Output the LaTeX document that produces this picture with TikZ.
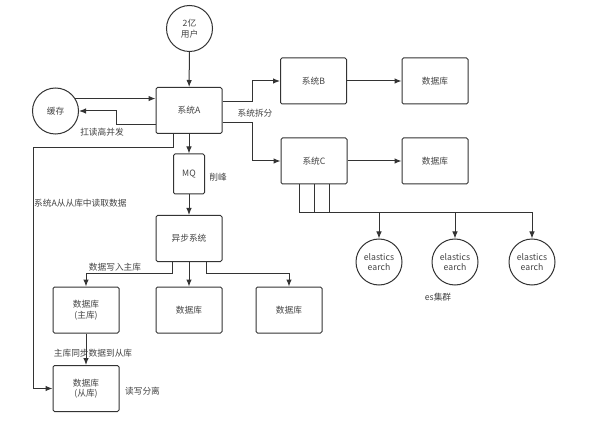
\documentclass[tikz,border=0pt]{standalone}
\usepackage{fontspec}
\setmainfont{Noto Sans CJK SC}
\usetikzlibrary{arrows.meta}

\definecolor{linegray}{HTML}{333333}
\definecolor{textgray}{HTML}{444444}

\tikzset{
    box/.style={draw=linegray, line width=1pt, rounded corners=1.5pt,
        minimum width=66pt, minimum height=46pt, inner sep=1pt,
        text=textgray, align=center},
    disc/.style={circle, draw=linegray, line width=1pt, minimum size=46pt,
        inner sep=0pt, text=textgray, align=center},
    note/.style={text=textgray, inner sep=1pt},
    link/.style={draw=linegray, line width=1pt},
}

\begin{document}
\begin{tikzpicture}[x=1pt, y=-1pt, >={Latex[length=7pt,width=5.5pt]},
        font=\fontsize{8.7}{10.5}\selectfont]
    \useasboundingbox[fill=white] (0,0) rectangle (597,422);

    \node[disc] (users) at (189.5,28.5) {2亿\\用户};
    \node[box] (sysA) at (189,110.5) {系统A};
    \node[disc] (cache) at (55.5,111) {缓存};
    \node[box] (sysB) at (313.5,81) {系统B};
    \node[box] (dbB) at (435,81) {数据库};
    \node[box] (sysC) at (314,161) {系统C};
    \node[box] (dbC) at (435,161) {数据库};
    \node[box, minimum width=31pt, minimum height=40pt] (mq) at (189,174) {MQ};
    \node[box] (async) at (189,238.5) {异步系统};
    \node[box] (master) at (86,310) {数据库\\(主库)};
    \node[box] (dbMid) at (189,310) {数据库};
    \node[box] (dbRight) at (289,310) {数据库};
    \node[box] (slave) at (86,388.5) {数据库\\(从库)};
    \foreach \i/\x in {1/379, 2/455, 3/532}
        \node[disc] (es\i) at (\x,262) {elastics\\earch};

    % labels
    \node[note] (lblCache) at (102,132) {扛读高并发};
    \node[note, anchor=west] (lblRead) at (33,203) {系统A从从库中读取数据};
    \node[note] (lblPeak) at (218,177) {削峰};
    \node[note] (lblSplit) at (255,113) {系统拆分};
    \node[note] (lblWrite) at (115,267) {数据写入主库};
    \node[note] (lblSync) at (93,353) {主库同步数据到从库};
    \node[note] (lblSep) at (142.5,391) {读写分离};
    \node[note] (lblEs) at (438,297) {es集群};

    \coordinate (readBend) at (33,148);
    \coordinate (bus) at ([xshift=-15pt, yshift=-28pt]sysC.south);

    % connectors
    \draw[link, ->] (users) -- (sysA);
    \draw[link, ->] (cache.32) -- (cache.32 -| sysA.west);
    \draw[link, ->] ([yshift=-14.5pt]sysA.west) -- ++(-39,0) |- (cache.east);
    \draw[link, ->] ([yshift=8.5pt]sysA.east) -- ++(30,0) |- (sysB.west);
    \draw[link, ->] ([yshift=-12.5pt]sysA.east) -- ++(30,0) |- (sysC.west);
    \draw[link, ->] (sysB) -- (dbB);
    \draw[link, ->] (sysC) -- (dbC);
    \draw[link, ->] (sysA) -- (mq);
    \draw[link, ->] (mq) -- (async);
    \draw[link, ->] ([xshift=-16pt]sysA.south) |- (readBend) |- (slave.west);
    \draw[link, ->] ([xshift=-17pt]async.south) -- ++(0,11) -| (master.north);
    \draw[link, ->] (async) -- (dbMid);
    \draw[link, ->] ([xshift=17pt]async.south) -- ++(0,11) -| (dbRight.north);
    \draw[link, ->] (master) -- (slave);

    \foreach \dx in {-15,0,15}
        \draw[link] ([xshift=\dx pt]sysC.south) -- ++(0,28);
    \draw[link, ->] (bus) -| (es3.north);
    \draw[link, ->] (bus -| es1.north) -- (es1);
    \draw[link, ->] (bus -| es2.north) -- (es2);
\end{tikzpicture}
\end{document}
